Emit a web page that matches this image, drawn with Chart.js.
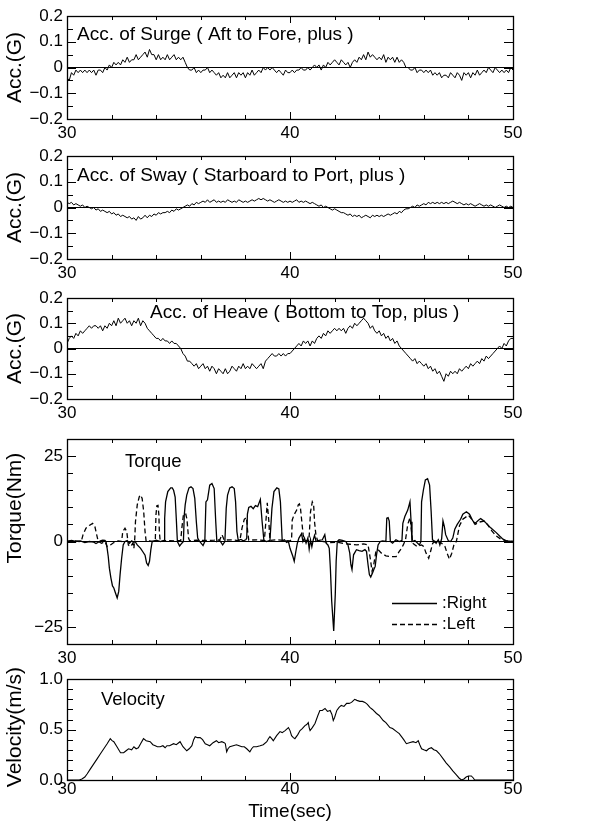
<!DOCTYPE html>
<html>
<head>
<meta charset="utf-8">
<script src="https://cdn.jsdelivr.net/npm/chart.js@4.4.1/dist/chart.umd.min.js"></script>
<style>
  html, body { margin: 0; padding: 0; background: #fff; }
  #wrap { position: relative; width: 597px; height: 825px; }
  canvas { position: absolute; left: 0; }
</style>
</head>
<body>
<div id="wrap">
  <canvas id="surge" width="597" height="150" style="top:0px"></canvas>
  <canvas id="sway" width="597" height="150" style="top:140px"></canvas>
  <canvas id="heave" width="597" height="150" style="top:280px"></canvas>
  <canvas id="torque" width="597" height="250" style="top:420px"></canvas>
  <canvas id="velocity" width="597" height="160" style="top:665px"></canvas>
</div>
<script>
// acceleration samples, every 0.1 s from 30.0 to 50.0 (G)
const accStart = 30;
const accStep = 0.1;

const surge = [
  -0.04,-0.05,-0.02,-0.03,-0.01,-0.02,-0.01,-0.02,-0.01,-0.02,
  -0.01,-0.02,-0.01,-0.03,-0.01,-0.01,-0.02,0.00,-0.01,0.01,
  0.00,0.02,0.01,0.02,0.01,0.03,0.02,0.04,0.02,0.03,
  0.03,0.05,0.03,0.04,0.05,0.06,0.04,0.07,0.05,0.05,
  0.03,0.05,0.03,0.04,0.03,0.05,0.03,0.04,0.05,0.03,
  0.04,0.03,0.04,0.02,0.00,-0.01,-0.01,0.00,-0.02,-0.01,
  -0.02,-0.01,-0.01,0.00,-0.02,-0.01,-0.02,-0.03,-0.02,-0.04,
  -0.03,-0.04,-0.02,-0.04,-0.03,-0.02,-0.04,-0.02,-0.03,-0.02,
  -0.04,-0.02,-0.03,-0.01,-0.03,-0.02,-0.01,-0.02,0.00,-0.01,
  0.00,-0.01,0.00,-0.01,-0.02,-0.01,-0.02,-0.03,-0.01,-0.02,
  -0.02,-0.01,-0.02,-0.01,-0.01,0.00,-0.01,-0.01,0.00,-0.01,
  0.00,0.01,0.00,0.01,-0.01,0.01,0.00,0.02,0.01,0.02,
  0.03,0.02,0.01,0.03,0.02,0.01,0.02,0.00,0.02,0.03,
  0.02,0.04,0.03,0.05,0.03,0.06,0.04,0.05,0.04,0.03,
  0.04,0.03,0.05,0.02,0.04,0.03,0.04,0.02,0.04,0.02,
  0.03,0.02,0.00,0.00,-0.01,-0.01,0.00,-0.02,-0.01,-0.01,
  -0.02,-0.01,-0.02,-0.01,-0.03,-0.02,-0.03,-0.02,-0.04,-0.03,
  -0.03,-0.04,-0.02,-0.03,-0.04,-0.02,-0.03,-0.05,-0.02,-0.03,
  -0.02,-0.04,-0.02,-0.03,-0.01,-0.03,-0.02,-0.01,-0.02,0.00,
  -0.01,-0.02,0.00,-0.01,-0.02,-0.01,-0.02,-0.01,-0.02,0.00,
  -0.01
];

const sway = [
  0.02,0.015,0.02,0.01,0.015,0.01,0.005,0.01,0.0,0.005,
  0.0,-0.005,0.0,-0.01,-0.005,-0.015,-0.01,-0.015,-0.02,-0.015,
  -0.025,-0.02,-0.03,-0.025,-0.035,-0.03,-0.035,-0.04,-0.035,-0.045,
  -0.04,-0.05,-0.035,-0.045,-0.04,-0.03,-0.04,-0.03,-0.035,-0.025,
  -0.03,-0.02,-0.025,-0.02,-0.02,-0.015,-0.02,-0.01,-0.015,-0.005,
  -0.01,-0.005,0.0,0.005,0.01,0.005,0.015,0.01,0.02,0.015,
  0.02,0.025,0.02,0.03,0.02,0.025,0.03,0.02,0.025,0.02,
  0.025,0.02,0.03,0.025,0.02,0.025,0.02,0.03,0.025,0.02,
  0.025,0.02,0.025,0.03,0.025,0.03,0.035,0.03,0.035,0.03,
  0.025,0.03,0.025,0.02,0.025,0.03,0.025,0.02,0.025,0.02,
  0.025,0.02,0.025,0.03,0.02,0.025,0.02,0.025,0.02,0.015,
  0.02,0.015,0.01,0.005,0.01,0.0,0.005,0.0,-0.005,-0.01,
  -0.005,-0.01,-0.015,-0.02,-0.02,-0.025,-0.03,-0.025,-0.035,-0.03,
  -0.035,-0.03,-0.04,-0.035,-0.03,-0.035,-0.04,-0.03,-0.035,-0.03,
  -0.035,-0.03,-0.035,-0.03,-0.025,-0.03,-0.025,-0.02,-0.025,-0.015,
  -0.02,-0.01,-0.005,-0.005,0.0,0.005,0.0,0.01,0.005,0.01,
  0.015,0.01,0.02,0.015,0.02,0.015,0.02,0.015,0.02,0.015,
  0.02,0.015,0.02,0.025,0.02,0.015,0.02,0.015,0.01,0.015,
  0.01,0.015,0.01,0.005,0.01,0.015,0.01,0.005,0.01,0.005,
  0.01,0.005,0.0,0.005,0.01,0.005,0.0,0.005,0.0,0.005,
  0.0
];

const heave = [
  0.02,0.04,0.05,0.04,0.06,0.05,0.07,0.06,0.07,0.08,
  0.09,0.08,0.09,0.09,0.08,0.09,0.07,0.09,0.08,0.1,
  0.09,0.11,0.09,0.12,0.1,0.11,0.12,0.1,0.11,0.09,
  0.11,0.1,0.12,0.09,0.11,0.1,0.08,0.07,0.06,0.05,
  0.04,0.04,0.03,0.04,0.03,0.03,0.02,0.03,0.02,0.02,
  0.01,0.0,-0.02,-0.03,-0.05,-0.05,-0.06,-0.07,-0.06,-0.08,
  -0.07,-0.06,-0.08,-0.07,-0.09,-0.07,-0.08,-0.1,-0.08,-0.09,
  -0.1,-0.08,-0.1,-0.09,-0.07,-0.08,-0.09,-0.07,-0.08,-0.06,
  -0.08,-0.07,-0.08,-0.06,-0.07,-0.08,-0.07,-0.06,-0.08,-0.05,
  -0.04,-0.03,-0.02,-0.03,-0.03,-0.02,-0.03,-0.02,-0.03,-0.02,
  -0.02,-0.01,0.0,0.01,0.02,0.01,0.03,0.02,0.03,0.01,
  0.03,0.02,0.04,0.05,0.04,0.06,0.05,0.07,0.06,0.07,
  0.08,0.07,0.08,0.07,0.08,0.06,0.08,0.09,0.08,0.1,
  0.09,0.1,0.11,0.12,0.11,0.1,0.08,0.09,0.07,0.06,
  0.07,0.05,0.06,0.04,0.05,0.03,0.04,0.02,0.03,0.01,
  0.0,-0.01,-0.02,-0.03,-0.04,-0.05,-0.04,-0.06,-0.05,-0.06,
  -0.07,-0.06,-0.08,-0.07,-0.09,-0.08,-0.1,-0.09,-0.11,-0.13,
  -0.1,-0.11,-0.09,-0.1,-0.09,-0.1,-0.08,-0.09,-0.08,-0.07,
  -0.08,-0.06,-0.07,-0.06,-0.05,-0.06,-0.04,-0.05,-0.03,-0.04,
  -0.03,-0.02,-0.01,0.0,0.01,0.0,0.02,0.01,0.03,0.04,
  0.04
];

// torque, [time (s), Nm]
const torqueRight = [
  [30.0,0],[30.2,0.3],[30.4,0],[30.6,0.2],[30.8,-0.3],[31.0,0],[31.2,-0.2],[31.3,-0.6],[31.4,-0.2],
  [31.5,0.2],[31.6,0.4],[31.7,0.3],[31.75,0],[31.8,-2],[31.85,-4.4],[31.9,-7.8],[31.97,-10.7],
  [32.04,-13],[32.1,-13.6],[32.17,-15],[32.25,-16.5],[32.32,-14.6],[32.38,-9.7],[32.45,-4.9],
  [32.52,-1],[32.6,0],[32.7,0.3],[32.8,-0.5],[32.9,0.2],[33.0,-0.3],[33.05,0],[33.15,-1],[33.3,-2],
  [33.4,-3],[33.5,-4],[33.57,-6.3],[33.64,-7],[33.7,-5.8],[33.76,-2.4],[33.82,0],[34.0,0.4],[34.2,0],
  [34.35,0.3],[34.38,6.8],[34.42,11.6],[34.52,14.6],[34.65,15.7],[34.72,15.7],[34.78,15],[34.85,13],
  [34.9,6.8],[34.95,0],[35.05,-1.3],[35.15,-0.5],[35.22,0],[35.26,7.8],[35.3,10.7],[35.37,13.6],
  [35.47,15.7],[35.56,16],[35.65,15.5],[35.73,12.6],[35.8,5.8],[35.86,1],[35.95,0],[36.1,-1.2],
  [36.18,0],[36.23,11.6],[36.3,12.2],[36.4,16.5],[36.5,17],[36.6,15.5],[36.67,5.8],[36.72,0],
  [36.85,0.3],[36.98,-1],[37.08,0],[37.14,9.7],[37.2,13.6],[37.3,15.7],[37.4,16],[37.5,15.5],
  [37.56,11.6],[37.62,2.9],[37.68,0.3],[37.8,0.6],[37.9,0.2],[38.02,0.5],[38.06,1],[38.09,8],
  [38.15,10],[38.25,10.3],[38.35,9.6],[38.45,10.5],[38.55,10.2],[38.67,12.3],[38.75,5.8],[38.83,0.3],
  [38.95,0],[39.1,0.3],[39.19,9.7],[39.28,14.6],[39.41,15.7],[39.5,15.4],[39.57,11.6],[39.65,0.2],
  [39.75,0.5],[39.85,-0.3],[39.93,0],[40.0,-2],[40.13,-4.4],[40.19,-5.8],[40.26,-3],[40.33,-0.5],
  [40.4,1],[40.52,2.3],[40.58,0],[40.65,1],[40.72,-0.5],[40.8,1],[40.86,-2.2],[40.92,0.5],[40.98,-1.5],
  [41.05,0.7],[41.1,1.8],[41.17,0],[41.3,0.3],[41.45,0.5],[41.56,2],[41.62,-0.5],[41.7,-1],[41.76,-2],
  [41.81,-7.8],[41.87,-17.5],[41.96,-26.2],[42.03,-15.5],[42.07,-5.8],[42.12,0],[42.2,0.5],[42.35,0.3],
  [42.5,0],[42.6,-1],[42.68,-3.4],[42.73,-6.8],[42.78,-8.2],[42.85,-3.9],[42.98,-2.4],[43.1,-2.7],
  [43.23,-2.9],[43.36,-2.4],[43.43,-2.9],[43.5,-6.8],[43.56,-9.7],[43.62,-10.4],[43.7,-9.2],[43.76,-8.2],
  [43.82,-7.3],[43.88,-3.9],[43.95,-1],[44.05,0],[44.15,0.2],[44.3,0],[44.34,6.8],[44.4,7],[44.45,6],
  [44.5,0],[44.6,-0.5],[44.75,0.5],[44.9,0],[45.02,0.3],[45.06,5.3],[45.15,7.3],[45.28,9.2],[45.38,11.6],
  [45.43,5.8],[45.47,0],[45.6,0.3],[45.8,-1],[45.87,0],[45.9,11.6],[45.98,15],[46.07,18],[46.17,18.4],
  [46.26,16.5],[46.33,8.7],[46.39,0.5],[46.5,0],[46.55,-0.5],[46.65,0.5],[46.72,-1],[46.8,0.8],
  [46.86,6],[46.92,4.4],[46.98,2],[47.1,0.2],[47.2,0],[47.3,1],[47.39,3.6],[47.5,5],[47.65,6.5],
  [47.75,8],[47.91,8.7],[48.05,8.0],[48.2,6.0],[48.3,5.3],[48.45,6.2],[48.55,6.7],[48.7,6],[48.85,5],
  [49.0,4],[49.25,2.6],[49.4,1.6],[49.55,0.7],[49.7,0.2],[49.85,0.1],[50.0,0]
];

const torqueLeft = [
  [30.0,0],[30.3,0.2],[30.55,0],[30.65,0.3],[30.72,2],[30.85,3.9],[31.0,4.7],[31.15,5.3],[31.25,4.4],
  [31.33,2],[31.4,0],[31.55,-0.5],[31.7,0],[31.8,-1.5],[31.95,-1],[32.1,-0.3],[32.3,0.2],[32.45,0],
  [32.5,2.9],[32.6,3.9],[32.68,2.9],[32.75,-1],[32.85,-1.5],[32.95,-0.5],[33.0,-2],[33.04,1],[33.07,5.8],
  [33.15,10.7],[33.24,13.1],[33.3,13.6],[33.37,12.6],[33.44,8.7],[33.5,2.9],[33.55,0],[33.7,0.2],
  [33.85,0],[33.96,0.3],[33.99,7.8],[34.03,10.5],[34.08,10.6],[34.12,7.8],[34.14,3],[34.18,0],
  [34.5,0.3],[34.8,0.2],[35.1,0.3],[35.15,3.9],[35.22,7.8],[35.32,8.2],[35.38,6.5],[35.45,1],[35.5,0.2],
  [35.8,0.4],[36.2,0.3],[36.6,0.4],[36.85,0.5],[36.95,2],[37.05,0.4],[37.4,0.5],[37.75,0.2],[37.85,4],
  [37.95,6.5],[38.05,7],[38.1,3],[38.15,0.4],[38.5,0.5],[38.85,0.3],[38.92,6],[38.98,11.3],[39.05,6],
  [39.1,0.3],[39.4,0.5],[39.7,0.3],[40.0,0.2],[40.07,0.5],[40.1,6.3],[40.18,7.8],[40.3,9.2],[40.37,10.7],
  [40.42,11],[40.47,9.7],[40.53,5.8],[40.59,2],[40.65,0.2],[40.85,0.3],[40.92,8.7],[41.0,11.6],
  [41.06,10.7],[41.1,5.8],[41.16,2],[41.24,0.2],[41.5,0],[41.8,-0.3],[42.1,-0.2],[42.4,-0.6],[42.7,-0.8],
  [43.0,-1],[43.3,-0.7],[43.5,-1],[43.6,-5],[43.68,-8.7],[43.75,-7],[43.85,-3],[43.95,-2.4],[44.1,-3.4],
  [44.3,-4.2],[44.5,-4.4],[44.76,-4.4],[44.9,-2.9],[45.0,-2],[45.08,-1],[45.18,0.5],[45.28,5],[45.38,7],
  [45.45,3],[45.5,-0.5],[45.7,-1.5],[45.9,-1],[46.0,-1.5],[46.1,-3.4],[46.22,-4.9],[46.3,-3],[46.4,-0.5],
  [46.6,0.3],[46.8,-0.5],[46.95,-1.5],[47.05,-3.5],[47.15,-5.2],[47.25,-3.5],[47.35,-1],[47.46,0],
  [47.6,4.6],[47.75,6.5],[48.0,7.7],[48.15,6.5],[48.3,5],[48.5,5.7],[48.7,6],[48.85,5],[49.05,3.1],
  [49.25,1.6],[49.45,0.7],[49.7,0.2],[50.0,0]
];

// velocity, [time (s), m/s]
const velocity = [
  [30.0,0],[30.3,0],[30.55,0],[30.67,0.01],[30.8,0.03],[30.9,0.06],[31.05,0.11],[31.2,0.16],[31.35,0.21],
  [31.5,0.26],[31.65,0.31],[31.8,0.36],[31.94,0.41],[32.02,0.39],[32.1,0.38],[32.24,0.33],[32.4,0.27],
  [32.54,0.27],[32.65,0.29],[32.76,0.31],[32.9,0.30],[33.0,0.33],[33.1,0.31],[33.2,0.32],[33.3,0.36],
  [33.43,0.41],[33.55,0.39],[33.73,0.38],[33.85,0.35],[33.96,0.34],[34.05,0.33],[34.18,0.33],[34.3,0.34],
  [34.4,0.32],[34.48,0.34],[34.6,0.34],[34.78,0.36],[34.9,0.35],[35.07,0.38],[35.2,0.33],[35.37,0.29],
  [35.48,0.31],[35.6,0.34],[35.68,0.40],[35.75,0.43],[35.85,0.42],[35.97,0.42],[36.08,0.40],[36.2,0.36],
  [36.3,0.35],[36.4,0.34],[36.55,0.37],[36.7,0.39],[36.8,0.37],[36.94,0.38],[37.05,0.37],[37.1,0.36],
  [37.16,0.28],[37.22,0.31],[37.3,0.33],[37.45,0.34],[37.6,0.35],[37.72,0.34],[37.84,0.33],[37.95,0.33],
  [38.06,0.31],[38.2,0.28],[38.28,0.31],[38.36,0.33],[38.5,0.33],[38.66,0.34],[38.8,0.35],[38.96,0.38],
  [39.03,0.41],[39.1,0.43],[39.18,0.41],[39.25,0.39],[39.4,0.44],[39.55,0.48],[39.65,0.47],[39.78,0.49],
  [39.93,0.52],[40.0,0.49],[40.07,0.44],[40.15,0.42],[40.22,0.41],[40.35,0.45],[40.45,0.49],[40.55,0.51],
  [40.67,0.54],[40.75,0.55],[40.82,0.57],[40.86,0.52],[40.9,0.49],[41.0,0.52],[41.12,0.56],[41.25,0.64],
  [41.34,0.69],[41.45,0.69],[41.57,0.71],[41.68,0.68],[41.8,0.69],[41.88,0.65],[41.94,0.59],[42.0,0.62],
  [42.1,0.69],[42.2,0.72],[42.3,0.74],[42.42,0.73],[42.54,0.76],[42.65,0.76],[42.76,0.77],[42.9,0.80],
  [43.0,0.79],[43.13,0.78],[43.25,0.78],[43.36,0.77],[43.47,0.75],[43.58,0.72],[43.7,0.70],[43.88,0.66],
  [44.0,0.64],[44.18,0.59],[44.3,0.57],[44.48,0.52],[44.6,0.51],[44.78,0.48],[44.9,0.46],[45.0,0.43],
  [45.1,0.40],[45.22,0.36],[45.35,0.37],[45.52,0.38],[45.65,0.37],[45.75,0.39],[45.82,0.35],[45.9,0.31],
  [46.0,0.30],[46.12,0.29],[46.22,0.31],[46.34,0.32],[46.45,0.30],[46.57,0.29],[46.7,0.26],[46.87,0.21],
  [47.0,0.17],[47.16,0.13],[47.3,0.09],[47.46,0.05],[47.58,0.02],[47.69,0.0],[47.8,0.01],[47.9,0.03],
  [48.0,0.04],[48.13,0.04],[48.22,0.02],[48.28,0.0],[48.6,0],[49.0,0],[50.0,0]
];

const FONT = "'Liberation Sans', Arial, sans-serif";
Chart.defaults.font.family = FONT;
Chart.defaults.color = '#000';

const minus = s => s.replace('-', '\u2212');

// box, inward ticks, panel caption, side title and legend
const framePlugin = {
  id: 'frame',
  afterDraw(chart, args, opts) {
    const { ctx, chartArea: a } = chart;
    const x = chart.scales.x, y = chart.scales.y;
    ctx.save();
    ctx.strokeStyle = '#000';
    ctx.lineWidth = 1;
    ctx.beginPath();
    x.ticks.forEach(t => {
      const px = Math.round(x.getPixelForValue(t.value)) + 0.5;
      const len = t.label ? 7 : 4;
      ctx.moveTo(px, a.bottom); ctx.lineTo(px, a.bottom - len);
      ctx.moveTo(px, a.top); ctx.lineTo(px, a.top + len);
    });
    y.ticks.forEach(t => {
      const py = Math.round(y.getPixelForValue(t.value)) + 0.5;
      const len = t.label ? 9 : 6;
      ctx.moveTo(a.left, py); ctx.lineTo(a.left + len, py);
      ctx.moveTo(a.right, py); ctx.lineTo(a.right - len, py);
    });
    ctx.stroke();
    ctx.lineWidth = 1.3;
    ctx.strokeRect(Math.round(a.left) + 0.5, Math.round(a.top) + 0.5,
      Math.round(a.right - a.left), Math.round(a.bottom - a.top));

    ctx.fillStyle = '#000';
    ctx.textBaseline = 'middle';
    ctx.textAlign = 'left';
    ctx.font = opts.captionSize + 'px ' + FONT;
    ctx.fillText(opts.caption, a.left + opts.captionDx, a.top + opts.captionDy);

    ctx.save();
    ctx.translate(15, a.top + (a.bottom - a.top) * opts.sidePos);
    ctx.rotate(-Math.PI / 2);
    ctx.textAlign = 'center';
    ctx.font = '21px ' + FONT;
    ctx.fillText(opts.side, 0, 0);
    ctx.restore();

    if (opts.legend) {
      ctx.font = '17px ' + FONT;
      chart.data.datasets.forEach((ds, i) => {
        const ly = Math.round(a.bottom - 41 + i * 21) + 0.5;
        ctx.beginPath();
        ctx.setLineDash(ds.borderDash || []);
        ctx.lineWidth = 1.3;
        ctx.moveTo(a.right - 121, ly);
        ctx.lineTo(a.right - 76, ly);
        ctx.stroke();
        ctx.setLineDash([]);
        ctx.fillText(':' + ds.label, a.right - 71, ly);
      });
    }
    ctx.restore();
  }
};

function xScale(axisHeight, tickPad, showTitle) {
  return {
    type: 'linear',
    min: 30, max: 50,
    afterFit: s => { s.height = axisHeight; },
    grid: { display: false, drawTicks: false },
    border: { display: false },
    ticks: {
      stepSize: 2, autoSkip: false, maxRotation: 0, padding: tickPad,
      font: { size: 17 }, color: '#000',
      callback: v => (Math.round(v) % 10 === 0 ? String(Math.round(v)) : '')
    },
    title: {
      display: showTitle, text: 'Time(sec)', color: '#000',
      font: { size: 19 }, padding: { top: 0, bottom: 2 }
    }
  };
}

function yScale(min, max, step, every, fmt, zeroLine) {
  return {
    min, max,
    afterFit: s => { s.width = 67; },
    grid: {
      drawTicks: false,
      color: c => (zeroLine && Math.abs(c.tick.value) < 1e-9 ? '#000' : 'rgba(0,0,0,0)'),
      lineWidth: 1
    },
    border: { display: false },
    ticks: {
      stepSize: step, autoSkip: false, padding: 4,
      font: { size: 17 }, color: '#000',
      callback: v => {
        const k = v / every;
        return Math.abs(k - Math.round(k)) < 1e-6 ? minus(fmt(v)) : '';
      }
    }
  };
}

const accFmt = v => (Math.abs(v) < 1e-9 ? '0' : v.toFixed(1));

function accChart(id, values, caption, captionDx, captionDy, padTop, axisHeight) {
  return new Chart(document.getElementById(id), {
    type: 'line',
    data: {
      datasets: [{
        label: caption,
        data: values.map((v, i) => ({ x: accStart + i * accStep, y: v })),
        borderColor: '#000', borderWidth: 1, pointRadius: 0, tension: 0
      }]
    },
    options: {
      responsive: false, animation: false,
      layout: { padding: { left: 0, right: 84, top: padTop, bottom: 0 } },
      scales: { x: xScale(axisHeight, 4, false), y: yScale(-0.2, 0.2, 0.05, 0.1, accFmt, true) },
      plugins: {
        legend: { display: false }, tooltip: { enabled: false },
        frame: { caption, captionSize: 19, captionDx, captionDy, side: 'Acc.(G)', sidePos: 0.5 }
      }
    },
    plugins: [framePlugin]
  });
}

accChart('surge', surge, 'Acc. of Surge ( Aft to Fore, plus )', 10, 19, 16, 31);
accChart('sway', sway, 'Acc. of Sway ( Starboard to Port, plus )', 10, 20, 16, 31);
accChart('heave', heave, 'Acc. of Heave ( Bottom to Top, plus )', 83, 15, 18, 31);

new Chart(document.getElementById('torque'), {
  type: 'line',
  data: {
    datasets: [
      {
        label: 'Right',
        data: torqueRight.map(p => ({ x: p[0], y: p[1] })),
        borderColor: '#000', borderWidth: 1.3, pointRadius: 0, tension: 0
      },
      {
        label: 'Left',
        data: torqueLeft.map(p => ({ x: p[0], y: p[1] })),
        borderColor: '#000', borderWidth: 1.3, borderDash: [5, 3], pointRadius: 0, tension: 0
      }
    ]
  },
  options: {
    responsive: false, animation: false,
    layout: { padding: { left: 0, right: 84, top: 19, bottom: 0 } },
    scales: { x: xScale(26, 4, false), y: yScale(-30, 30, 5, 25, v => String(Math.round(v)), true) },
    plugins: {
      legend: { display: false }, tooltip: { enabled: false },
      frame: { caption: 'Torque', captionSize: 18.5, captionDx: 58, captionDy: 23,
        side: 'Torque(Nm)', sidePos: 0.337, legend: true }
    }
  },
  plugins: [framePlugin]
});

new Chart(document.getElementById('velocity'), {
  type: 'line',
  data: {
    datasets: [{
      label: 'Velocity',
      data: velocity.map(p => ({ x: p[0], y: p[1] })),
      borderColor: '#000', borderWidth: 1.1, pointRadius: 0, tension: 0
    }]
  },
  options: {
    responsive: false, animation: false,
    layout: { padding: { left: 0, right: 84, top: 14, bottom: 0 } },
    scales: { x: xScale(45, -1, true), y: yScale(0, 1, 0.1, 0.5, v => v.toFixed(1), false) },
    plugins: {
      legend: { display: false }, tooltip: { enabled: false },
      frame: { caption: 'Velocity', captionSize: 18.5, captionDx: 34, captionDy: 21,
        side: 'Velocity(m/s)', sidePos: 0.475 }
    }
  },
  plugins: [framePlugin]
});
</script>
</body>
</html>
